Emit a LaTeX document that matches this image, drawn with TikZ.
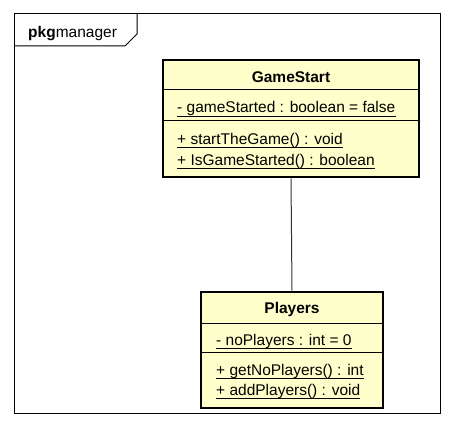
\documentclass[tikz,border=0pt]{standalone}
\usepackage{fontspec}
\setmainfont{Liberation Sans}
\definecolor{classfill}{HTML}{FFFFCC}
\begin{document}
\begin{tikzpicture}[x=1pt,y=-1pt,
  classbox/.style={draw=black,line width=2.8pt,fill=classfill},
  sepline/.style={draw=black,line width=1pt},
  frameline/.style={draw=black,line width=1pt},
  titletext/.style={inner sep=0pt,anchor=base,font=\fontsize{15.5}{18}\selectfont\bfseries},
  membertext/.style={inner sep=0pt,anchor=base west,font=\fontsize{15.5}{18}\selectfont},
  uline/.style={draw=black,line width=0.9pt},
  assoc/.style={draw=black!80,line width=1pt}]
\useasboundingbox (0,0) rectangle (453,428);
\fill[white] (0,0) rectangle (453,428);
% package frame
\draw[frameline] (14,14) rectangle (440,413);
\draw[frameline] (14,46) -- (125,46) -- (137,34) -- (137,14);
\node[membertext] (pkg) at (28,38) {\textbf{pkg}manager};
% GameStart
\path[classbox] (163,60) rectangle (419,177);
\coordinate (gsTop) at (291,60);
\coordinate (gsBot) at (291,177);
\draw[sepline] (163,90) -- (419,90);
\draw[sepline] (163,121) -- (419,121);
\node[titletext] (gsTitle) at (291,83) {GameStart};
\node[membertext] (gsA1) at (177,113) {- gameStarted : boolean = false};
\node[membertext] (gsM1) at (177,144) {+ startTheGame() : void};
\node[membertext] (gsM2) at (177,165) {+ IsGameStarted() : boolean};
\foreach \n in {gsA1,gsM1,gsM2}
  \draw[uline] ([yshift=-3.5]\n.base west) -- ([yshift=-3.5]\n.base east);
% Players
\path[classbox] (201,292) rectangle (383,408);
\coordinate (plTop) at (292,292);
\draw[sepline] (201,323) -- (383,323);
\draw[sepline] (201,352) -- (383,352);
\node[titletext] (plTitle) at (292,313) {Players};
\node[membertext] (plA1) at (216,345) {- noPlayers : int = 0};
\node[membertext] (plM1) at (216,375) {+ getNoPlayers() : int};
\node[membertext] (plM2) at (216,395) {+ addPlayers() : void};
\foreach \n in {plA1,plM1,plM2}
  \draw[uline] ([yshift=-3.5]\n.base west) -- ([yshift=-3.5]\n.base east);
% association
\draw[assoc] ([yshift=-1.4]gsBot) -- ([yshift=1.4]plTop);
\end{tikzpicture}
\end{document}
